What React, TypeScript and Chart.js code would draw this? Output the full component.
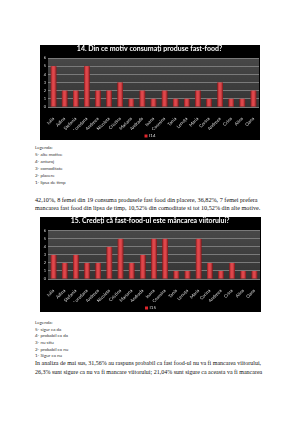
import React, { useEffect, useRef } from "react";
import { Chart, registerables } from "chart.js";

Chart.register(...registerables);

const respondents = [
  "Iulia", "Adina", "Ștefania", "Loredana", "Andreea", "Nicoleta", "Cristina",
  "Mariana", "Andrada", "Ioana", "Cosmina", "Tania", "Lenuța", "Maria",
  "Corina", "Andreea", "Crina", "Alina", "Oana",
];
const motivValues = [5, 2, 2, 5, 2, 2, 3, 1, 2, 1, 2, 1, 1, 2, 1, 3, 1, 1, 2];
const viitorValues = [3, 2, 3, 2, 2, 4, 5, 2, 3, 5, 5, 1, 1, 5, 2, 1, 2, 1, 1];
const yMax = 6;

const motivLegend = ["Legenda:", "5- alte motive", "4- anturaj", "3- comoditate", "2- placere", "1- lipsa de timp"];
const viitorLegend = ["Legenda:", "5- sigur ca da", "4- probabil ca da", "3- nu stiu", "2- probabil ca nu", "1- Sigur ca nu"];
const paragraph1 = [
  "42,10%, 8 femei din 19 consuma produsele fast food din placere, 36,82%, 7 femei prefera",
  "mancarea fast food din lipsa de timp, 10,52% din comoditate si tot 10,52% din alte motive.",
];
const paragraph2 = [
  "In analiza de mai sus, 31,56% au raspuns probabil ca fast food-ul nu va fi mancarea viitorului,",
  "26,3% sunt sigure ca nu va fi mancare viitorului; 21,04% sunt sigure ca aceasta va fi mancarea",
];

const CHART_FONT = "Lato";

const bgPlugin = {
  id: "bgPlugin",
  beforeDraw(chart: any) {
    const { ctx, width, height, chartArea } = chart;
    ctx.save();
    ctx.fillStyle = "#000";
    ctx.fillRect(0, 0, width, height);
    const g = ctx.createLinearGradient(0, chartArea.top, 0, chartArea.bottom);
    g.addColorStop(0, "#484848");
    g.addColorStop(1, "#343434");
    ctx.fillStyle = g;
    ctx.fillRect(chartArea.left, chartArea.top, chartArea.right - chartArea.left, chartArea.bottom - chartArea.top);
    ctx.restore();
  },
  afterDatasetsDraw(chart: any) {
    const { ctx } = chart;
    const meta = chart.getDatasetMeta(0);
    ctx.save();
    meta.data.forEach((el: any) => {
      const p = el.getProps(["x", "y", "base", "width"], true);
      const left = p.x - p.width / 2;
      const g = ctx.createLinearGradient(left, 0, left + p.width, 0);
      g.addColorStop(0, "rgba(60,0,0,0.55)");
      g.addColorStop(0.45, "rgba(255,200,200,0.18)");
      g.addColorStop(1, "rgba(60,0,0,0.6)");
      ctx.fillStyle = g;
      ctx.fillRect(left, p.y, p.width, p.base - p.y);
    });
    ctx.restore();
  },
  afterDraw(chart: any) {
    const { ctx, width, height } = chart;
    const ds = chart.data.datasets[0];
    ctx.save();
    ctx.font = `4.5px ${CHART_FONT}`;
    const tw = ctx.measureText(ds.label).width;
    const box = 3;
    const total = box + 1.5 + tw;
    const x0 = width / 2 - total / 2;
    const yc = height - 4;
    ctx.fillStyle = ds.backgroundColor;
    ctx.fillRect(x0, yc - box / 2, box, box);
    ctx.fillStyle = "#dddddd";
    ctx.textBaseline = "middle";
    ctx.fillText(ds.label, x0 + box + 1.5, yc);
    ctx.restore();
  },
};

function BarChart(props: { title: string; values: number[]; series: string; w: number; h: number; titlePad: number; titleSize: number; xHeight: number }) {
  const ref = useRef<HTMLCanvasElement>(null);
  useEffect(() => {
    const chart = new Chart(ref.current as HTMLCanvasElement, {
      type: "bar",
      data: {
        labels: respondents,
        datasets: [
          {
            label: props.series,
            data: props.values,
            backgroundColor: "#e0262c",
            barPercentage: 0.5,
            categoryPercentage: 1,
          },
        ],
      },
      options: {
        responsive: false,
        animation: false,
        devicePixelRatio: 1,
        layout: { padding: { left: 0, right: 1, top: 0, bottom: 10 } },
        plugins: {
          title: {
            display: true,
            text: props.title,
            color: "#ffffff",
            font: { family: CHART_FONT, size: props.titleSize, weight: "bold" },
            padding: { top: 0, bottom: props.titlePad },
          },
          legend: { display: false },
          tooltip: { enabled: false },
        },
        scales: {
          x: {
            grid: { display: false },
            border: { display: false },
            ticks: {
              color: "#dddddd",
              font: { family: CHART_FONT, size: 4.5 },
              minRotation: 45,
              maxRotation: 45,
              autoSkip: false,
              padding: 1,
            },
            afterFit: (s: any) => {
              s.height = props.xHeight;
            },
          },
          y: {
            min: 0,
            max: yMax,
            grid: { color: "#7a7a7a", lineWidth: 1, drawTicks: false },
            border: { display: false },
            ticks: {
              stepSize: 1,
              color: "#dddddd",
              font: { family: CHART_FONT, size: 4 },
              padding: 2,
            },
            afterFit: (s: any) => {
              s.width = 8;
            },
          },
        },
      },
      plugins: [bgPlugin],
    });
    return () => chart.destroy();
  }, []);
  return <canvas ref={ref} width={props.w} height={props.h} style={{ display: "block", width: props.w, height: props.h }} />;
}

function TextLines(props: { lines: string[]; top: number; step: number; size: number; family: string; color: string; left: number }) {
  return (
    <>
      {props.lines.map((t, i) => (
        <div
          key={i}
          style={{
            position: "absolute",
            left: props.left,
            top: props.top + i * props.step - props.size * 0.6,
            fontFamily: props.family,
            fontSize: props.size,
            lineHeight: props.size * 1.2 + "px",
            color: props.color,
            whiteSpace: "nowrap",
          }}
        >
          {t}
        </div>
      ))}
    </>
  );
}

export default function App() {
  return (
    <div style={{ position: "absolute", left: 0, top: 0, width: 300, height: 424, background: "#fff", overflow: "hidden" }}>
      <div style={{ position: "absolute", left: 40, top: 45 }}>
        <BarChart title="14. Din ce motiv consumați produse fast-food?" values={motivValues} series="I14" w={220} h={95} titlePad={4.6} titleSize={7} xHeight={23} />
      </div>
      <TextLines lines={motivLegend} top={147.3} step={7} size={4.5} family="Lato" color="#333" left={35} />
      <TextLines lines={paragraph1} top={200} step={7.7} size={6.2} family="Liberation Serif" color="#111" left={35} />
      <div style={{ position: "absolute", left: 40, top: 217 }}>
        <BarChart title="15. Credeți că fast-food-ul este mâncarea viitorului?" values={viitorValues} series="I15" w={221} h={95} titlePad={5.6} titleSize={6.9} xHeight={23} />
      </div>
      <TextLines lines={viitorLegend} top={322.7} step={6.67} size={4.5} family="Lato" color="#333" left={35} />
      <TextLines lines={paragraph2} top={364} step={8.7} size={6.0} family="Liberation Serif" color="#111" left={35} />
    </div>
  );
}
